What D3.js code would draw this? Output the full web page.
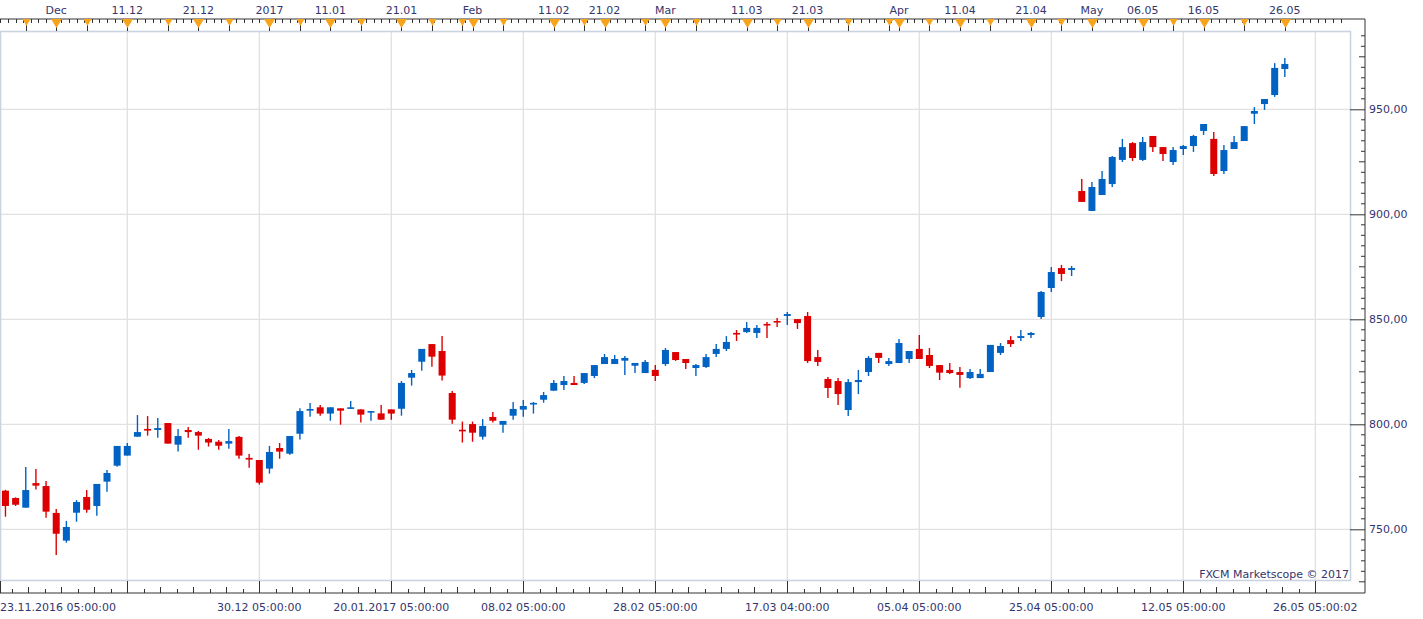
<!DOCTYPE html>
<html>
<head>
<meta charset="utf-8">
<script src="https://cdn.jsdelivr.net/npm/d3@7"></script>
<style>
  html, body { margin: 0; padding: 0; background: #fff; }
  svg text { font-family: "DejaVu Sans", Verdana, sans-serif; font-size: 11px; fill: #35356e; }
</style>
</head>
<body>
<div id="chart"></div>
<script>
// Daily candles, 23.11.2016 .. 26.05.2017 (one entry per trading day)
const opens = [
  768.4, 764.9, 760.3, 772.0, 770.6, 757.8, 744.6, 757.9, 765.4, 761.1,
  772.7, 780.3, 785.1, 794.1, 797.8, 797.3, 800.6, 790.3, 797.3, 796.3,
  793.0, 791.7, 790.8, 794.0, 784.0, 783.0, 778.9, 788.7, 786.0, 795.5,
  806.5, 808.1, 805.1, 807.6, 807.4, 807.1, 806.0, 805.2, 807.1, 807.4,
  822.2, 829.8, 838.2, 834.9, 814.9, 797.4, 800.1, 794.1, 803.5, 799.8,
  804.1, 807.0, 809.8, 811.7, 816.0, 818.7, 819.7, 819.7, 823.0, 828.7,
  828.7, 830.3, 827.9, 824.4, 825.9, 828.7, 834.4, 831.1, 826.8, 827.3,
  833.5, 835.9, 843.5, 843.9, 843.5, 847.8, 849.2, 851.6, 850.1, 851.6,
  832.0, 821.6, 820.6, 806.8, 820.1, 824.9, 834.0, 828.7, 829.2, 831.1,
  835.9, 833.0, 828.2, 825.9, 824.9, 822.0, 822.0, 824.9, 834.0, 840.1,
  841.1, 842.5, 851.1, 864.9, 874.4, 873.5, 911.1, 901.6, 909.2, 914.4,
  925.9, 933.9, 925.9, 937.3, 932.0, 924.9, 931.1, 932.5, 939.7, 935.9,
  920.6, 931.1, 934.9, 947.9, 952.5, 956.8, 969.2
];
const highs = [
  768.8, 765.2, 779.7, 778.7, 773.0, 759.7, 754.0, 763.9, 768.7, 771.6,
  778.2, 789.7, 791.1, 804.4, 803.9, 803.0, 800.6, 797.8, 798.7, 796.8,
  793.5, 792.5, 797.8, 794.4, 785.9, 783.0, 789.7, 791.1, 794.4, 807.6,
  810.2, 809.2, 808.1, 807.6, 811.1, 807.1, 806.3, 809.2, 807.1, 820.6,
  825.9, 835.9, 838.2, 842.0, 815.9, 801.3, 801.3, 802.5, 805.9, 801.6,
  810.6, 811.6, 810.6, 815.4, 821.1, 823.0, 823.0, 824.4, 828.2, 833.5,
  833.0, 832.5, 829.2, 830.6, 828.2, 836.3, 834.4, 831.1, 828.7, 833.5,
  838.2, 842.0, 844.9, 848.7, 847.3, 848.7, 850.6, 853.5, 850.1, 853.5,
  835.4, 822.5, 822.0, 821.6, 825.9, 832.5, 834.0, 831.6, 840.6, 834.9,
  842.5, 836.3, 828.2, 829.2, 827.3, 826.3, 826.3, 837.8, 838.7, 842.0,
  844.9, 844.0, 863.5, 874.9, 875.9, 875.4, 916.8, 915.4, 920.6, 927.8,
  935.9, 934.4, 936.8, 937.3, 932.0, 932.0, 933.0, 937.8, 943.0, 939.2,
  933.0, 937.3, 942.0, 951.1, 954.9, 972.0, 974.4
];
const lows = [
  756.0, 761.1, 760.3, 768.9, 755.5, 737.8, 743.6, 753.6, 757.9, 756.5,
  767.9, 779.8, 785.1, 794.1, 794.6, 793.6, 790.8, 787.0, 793.6, 787.9,
  789.4, 787.9, 788.4, 783.6, 779.3, 771.3, 776.5, 783.6, 785.5, 792.8,
  803.6, 804.1, 801.7, 799.8, 807.4, 800.8, 801.7, 802.2, 802.2, 804.1,
  818.4, 825.5, 827.4, 820.8, 800.3, 791.3, 791.7, 792.7, 800.8, 796.0,
  802.2, 803.6, 805.1, 810.3, 816.0, 816.3, 818.7, 819.2, 822.0, 828.7,
  828.7, 823.5, 824.4, 824.4, 820.6, 827.8, 830.2, 826.3, 823.0, 826.8,
  832.0, 834.9, 839.7, 843.5, 841.1, 841.1, 846.3, 847.3, 845.4, 829.2,
  827.8, 812.5, 809.2, 803.9, 814.4, 823.0, 829.2, 827.8, 829.2, 829.2,
  831.1, 826.8, 821.1, 824.0, 817.4, 821.6, 822.0, 824.9, 833.0, 836.8,
  839.7, 841.1, 850.1, 863.0, 868.2, 870.6, 905.9, 901.6, 909.2, 913.0,
  924.9, 925.4, 925.4, 929.7, 925.4, 923.5, 928.2, 929.7, 937.8, 918.2,
  919.2, 931.1, 934.9, 943.0, 949.7, 955.9, 965.4
];
const closes = [
  761.1, 761.7, 768.7, 770.8, 758.4, 747.9, 751.1, 763.0, 759.3, 771.6,
  776.8, 789.7, 789.7, 796.3, 797.0, 798.2, 790.8, 794.4, 796.3, 794.6,
  791.3, 789.8, 792.0, 785.1, 783.2, 772.2, 786.8, 787.0, 794.4, 806.3,
  807.3, 805.1, 808.1, 806.5, 808.1, 804.6, 806.3, 802.2, 805.1, 819.7,
  824.4, 835.9, 832.2, 823.2, 802.2, 797.0, 796.0, 799.2, 801.7, 801.6,
  807.3, 808.7, 810.2, 813.9, 819.7, 820.6, 818.7, 824.4, 828.2, 832.0,
  831.1, 831.6, 829.2, 829.7, 823.0, 835.4, 830.6, 829.2, 828.2, 832.0,
  835.9, 839.2, 843.2, 845.9, 845.9, 847.3, 848.7, 852.5, 848.2, 830.1,
  829.7, 817.3, 814.4, 820.1, 821.1, 831.6, 831.6, 830.1, 838.7, 834.9,
  831.1, 827.8, 824.6, 824.4, 823.5, 824.9, 824.0, 837.8, 837.3, 838.2,
  842.0, 843.5, 863.0, 872.5, 871.6, 874.4, 905.9, 913.0, 916.8, 927.3,
  932.0, 926.8, 934.4, 932.0, 928.7, 930.6, 932.5, 937.3, 943.0, 919.2,
  930.6, 934.4, 942.0, 949.2, 954.9, 969.7, 971.6
];

// top time axis: labels (candle index where they sit)
const topLabels   = ["Dec", "11.12", "21.12", "2017", "11.01", "21.01", "Feb", "11.02", "21.02", "Mar",
                     "11.03", "21.03", "Apr", "11.04", "21.04", "May", "06.05", "16.05", "26.05"];
const topLabelIdx = [5, 12, 19, 26, 32, 39, 46, 54, 59, 65, 73, 79, 88, 94, 101, 107, 112, 118, 126];
// small orange markers (every 5 calendar days)
const markIdx = [2, 5, 8, 12, 16, 19, 22, 26, 29, 32, 35, 39, 42, 45, 46, 49, 54, 57, 59, 63,
                 65, 68, 73, 76, 79, 83, 87, 88, 91, 94, 97, 101, 104, 107, 112, 115, 118, 122, 126];

// bottom axis labels
const bottomLabels   = ["30.12 05:00:00", "20.01.2017 05:00:00", "08.02 05:00:00", "28.02 05:00:00",
                        "17.03 04:00:00", "05.04 05:00:00", "25.04 05:00:00", "12.05 05:00:00", "26.05 05:00:02"];
const bottomLabelIdx = [25, 38, 51, 64, 77, 90, 103, 116, 129];
const firstLabel = "23.11.2016 05:00:00";

const priceTicks = [750, 800, 850, 900, 950];

//////////////////////////////////////////////////////////////////////
// Layout
//////////////////////////////////////////////////////////////////////
const W = 1423, H = 619;
const plot = {left: 0, right: 1351, top: 31, bottom: 581};
const axisX = 1365, topY = 19, bottomY = 593;

const x = d3.scaleLinear().domain([-1, 129]).range([-4.7, 1315.3]);
const y = d3.scaleLinear().domain([750, 950]).range([529.3, 109.3]);

const svg = d3.select('#chart')
  .append('svg')
  .attr('width', W)
  .attr('height', H);

// grid
const grid = svg.append('g').attr('class', 'grid');
grid.selectAll('.hgrid')
  .data(priceTicks)
  .enter().append('line')
  .attr('x1', plot.left).attr('x2', plot.right)
  .attr('y1', d => y(d)).attr('y2', d => y(d))
  .attr('stroke', '#e1e1e1').attr('stroke-width', 1.3);

const gridIdx = d3.range(12, 130, 13);
grid.selectAll('.vgrid')
  .data(gridIdx)
  .enter().append('line')
  .attr('x1', d => x(d)).attr('x2', d => x(d))
  .attr('y1', plot.top).attr('y2', plot.bottom)
  .attr('stroke', '#e1e1e1').attr('stroke-width', 1.3);

// plot frame
svg.append('rect')
  .attr('x', plot.left + 0.5)
  .attr('y', plot.top + 0.5)
  .attr('width', plot.right - plot.left - 1)
  .attr('height', plot.bottom - plot.top - 1)
  .attr('fill', 'none')
  .attr('stroke', '#cad3df')
  .attr('stroke-width', 1.6);

// candles
const candles = d3.range(opens.length).map(i => ({
  i, o: opens[i], h: highs[i], l: lows[i], c: closes[i]
}));
const colorOf = d => d.c >= d.o ? '#0062c3' : '#dd0000';

const cg = svg.append('g').attr('class', 'candles');
cg.selectAll('.wick')
  .data(candles)
  .enter().append('line')
  .attr('x1', d => x(d.i)).attr('x2', d => x(d.i))
  .attr('y1', d => y(d.h)).attr('y2', d => y(d.l))
  .attr('stroke', colorOf)
  .attr('stroke-width', 1.4);

cg.selectAll('.body')
  .data(candles)
  .enter().append('rect')
  .attr('x', d => x(d.i) - 3.5)
  .attr('width', 7)
  .attr('y', d => Math.min(y(d.o), y(d.c)))
  .attr('height', d => Math.max(1.6, Math.abs(y(d.o) - y(d.c))))
  .attr('fill', colorOf);

// watermark
svg.append('text')
  .attr('x', plot.right - 2)
  .attr('y', plot.bottom - 3)
  .attr('text-anchor', 'end')
  .text('FXCM Marketscope © 2017');

//////////////////////////////////////////////////////////////////////
// Right price axis
//////////////////////////////////////////////////////////////////////
const ra = svg.append('g').attr('transform', `translate(${axisX},0)`);
ra.call(d3.axisRight(y)
    .tickValues(priceTicks)
    .tickSize(-15)
    .tickPadding(4)
    .tickFormat(d => d.toFixed(2).replace('.', ',')));
ra.select('.domain').remove();
ra.selectAll('.tick line').attr('stroke', '#333');
ra.selectAll('.tick text')
  .attr('font-family', null).attr('font-size', null)
  .style('fill', '#35356e');

const minor = d3.range(725, 990, 5).filter(v => v % 50 !== 0 && y(v) > topY + 4 && y(v) < bottomY - 4);
ra.selectAll('.minor')
  .data(minor)
  .enter().append('line')
  .attr('x1', d => d % 25 === 0 ? -6 : -4).attr('x2', 0)
  .attr('y1', d => y(d)).attr('y2', d => y(d))
  .attr('stroke', '#333');

svg.append('line')
  .attr('x1', axisX).attr('x2', axisX)
  .attr('y1', topY).attr('y2', bottomY)
  .attr('stroke', '#333');

//////////////////////////////////////////////////////////////////////
// Bottom time axis
//////////////////////////////////////////////////////////////////////
const ba = svg.append('g');
ba.append('line')
  .attr('x1', 0).attr('x2', axisX)
  .attr('y1', bottomY).attr('y2', bottomY)
  .attr('stroke', '#333');

ba.selectAll('.major')
  .data([-0.535].concat(gridIdx))
  .enter().append('line')
  .attr('x1', d => Math.round(x(d)) + 0.5).attr('x2', d => Math.round(x(d)) + 0.5)
  .attr('y1', bottomY - 12).attr('y2', bottomY)
  .attr('stroke', '#333');

const bMinor = d3.range(1, 8 * 10).map(k => ({k, v: -1 + k * 13 / 8}))
  .filter(d => d.k % 8 !== 0 && x(d.v) < axisX - 4);
ba.selectAll('.minor')
  .data(bMinor)
  .enter().append('line')
  .attr('x1', d => Math.round(x(d.v)) + 0.5).attr('x2', d => Math.round(x(d.v)) + 0.5)
  .attr('y1', d => bottomY - (d.k % 2 === 0 ? 6 : 4)).attr('y2', bottomY)
  .attr('stroke', '#333');

ba.append('text')
  .attr('x', 0).attr('y', 611)
  .text(firstLabel);
ba.selectAll('.blabel')
  .data(bottomLabels)
  .enter().append('text')
  .attr('x', (d, i) => x(bottomLabelIdx[i]))
  .attr('y', 611)
  .attr('text-anchor', 'middle')
  .text(d => d);

//////////////////////////////////////////////////////////////////////
// Top time axis
//////////////////////////////////////////////////////////////////////
const ta = svg.append('g');
ta.append('line')
  .attr('x1', 0).attr('x2', axisX)
  .attr('y1', topY).attr('y2', topY)
  .attr('stroke', '#333');

// small ticks, roughly one every 3/4 of a candle step
ta.selectAll('.minor')
  .data(d3.range(-0.5, 132, 0.75))
  .enter().append('line')
  .attr('x1', d => Math.round(x(d)) + 0.5).attr('x2', d => Math.round(x(d)) + 0.5)
  .attr('y1', topY).attr('y2', topY + 4)
  .attr('stroke', '#333');

ta.selectAll('.mtick')
  .data(markIdx)
  .enter().append('line')
  .attr('x1', d => Math.round(x(d)) + 0.5).attr('x2', d => Math.round(x(d)) + 0.5)
  .attr('y1', topY).attr('y2', plot.top)
  .attr('stroke', '#333');

ta.selectAll('.mark')
  .data(markIdx)
  .enter().append('path')
  .attr('d', d => {
    const big = topLabelIdx.includes(d);
    const w = big ? 5.5 : 4, h = big ? 9 : 7;
    const cx = Math.round(x(d)) + 0.5;
    return `M${cx - w},${topY}L${cx + w},${topY}L${cx},${topY + h}Z`;
  })
  .attr('fill', '#f7a31c');

ta.selectAll('.tlabel')
  .data(topLabels)
  .enter().append('text')
  .attr('x', (d, i) => x(topLabelIdx[i]))
  .attr('y', 13.5)
  .attr('text-anchor', 'middle')
  .text(d => d);
</script>
</body>
</html>
